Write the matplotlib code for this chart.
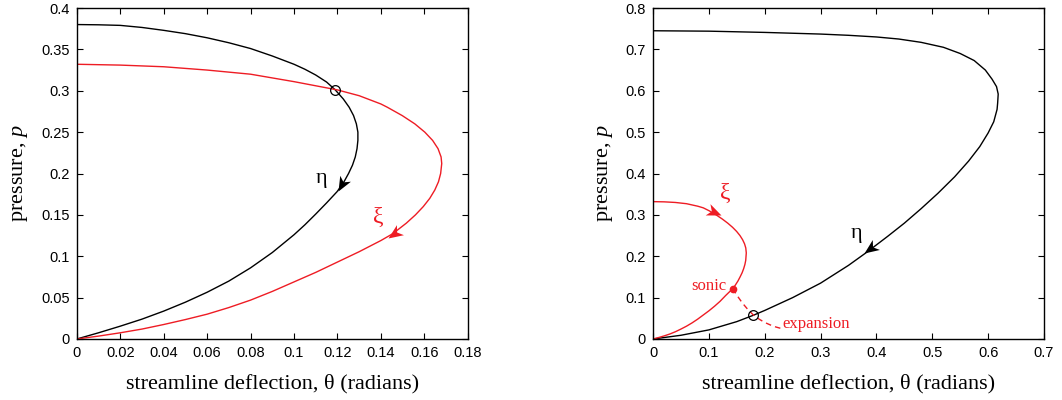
import math
import matplotlib
matplotlib.use("Agg")
import matplotlib.pyplot as plt
from matplotlib.path import Path
from matplotlib.markers import MarkerStyle
from matplotlib.transforms import Affine2D

plt.rcParams["mathtext.fontset"] = "custom"
plt.rcParams["mathtext.rm"] = "Liberation Serif"
plt.rcParams["mathtext.it"] = "Liberation Serif:italic"

# ---------------- data: left panel ----------------
L_eta_theta = [0, 0.01, 0.02, 0.03, 0.04, 0.05, 0.06, 0.07, 0.08, 0.09, 0.10, 0.105, 0.11, 0.115,
               0.119, 0.1227, 0.1254, 0.1274, 0.1287, 0.1294, 0.1294, 0.1290, 0.1282, 0.1269,
               0.1251, 0.1230, 0.1220, 0.1198, 0.115, 0.11, 0.105, 0.10, 0.09, 0.08, 0.07, 0.06,
               0.05, 0.04, 0.03, 0.02, 0.01, 0]
L_eta_p = [0.380, 0.3797, 0.379, 0.3765, 0.373, 0.369, 0.364, 0.358, 0.351, 0.342, 0.332, 0.326,
           0.319, 0.3105, 0.301, 0.29, 0.28, 0.27, 0.26, 0.25, 0.24, 0.23, 0.22, 0.21,
           0.20, 0.19, 0.186, 0.178, 0.1645, 0.151, 0.138, 0.126, 0.1045, 0.086, 0.070, 0.0565,
           0.0445, 0.0337, 0.024, 0.0155, 0.0075, 0]

L_xi_theta = [0, 0.02, 0.04, 0.06, 0.08, 0.10, 0.12, 0.13, 0.14, 0.1430, 0.1498, 0.1556, 0.1602,
              0.1638, 0.1663, 0.1677, 0.168, 0.1675, 0.1665, 0.1648, 0.1625, 0.1595, 0.1559,
              0.1517, 0.1468, 0.1453, 0.14, 0.13, 0.12, 0.11, 0.10, 0.09, 0.08, 0.07, 0.06,
              0.05, 0.04, 0.03, 0.02, 0.01, 0]
L_xi_p = [0.332, 0.331, 0.329, 0.325, 0.320, 0.311, 0.301, 0.294, 0.284, 0.28, 0.27, 0.26, 0.25,
          0.24, 0.23, 0.22, 0.212, 0.20, 0.19, 0.18, 0.17, 0.16, 0.15,
          0.14, 0.13, 0.127, 0.119, 0.1055, 0.093, 0.0805, 0.069, 0.0575, 0.047, 0.038, 0.030,
          0.0235, 0.0175, 0.012, 0.0075, 0.0035, 0]

L_cross = (0.119, 0.301)
L_eta_arrow = [(0.1255, 0.204), (0.1202, 0.179)]
L_xi_arrow = [(0.155, 0.143), (0.1433, 0.1216)]
L_eta_label = (0.1127, 0.194)
L_xi_label = (0.139, 0.147)

# ---------------- data: right panel ----------------
R_eta_theta = [0, 0.1, 0.2, 0.3, 0.35, 0.40, 0.44, 0.48, 0.52, 0.55, 0.575, 0.595, 0.607, 0.615,
               0.618, 0.617, 0.616, 0.61, 0.60, 0.585, 0.565, 0.54, 0.51, 0.48, 0.45, 0.42,
               0.383, 0.35, 0.30, 0.25, 0.20, 0.179, 0.15, 0.10, 0.05, 0]
R_eta_p = [0.745, 0.744, 0.741, 0.737, 0.734, 0.730, 0.725, 0.717, 0.705, 0.690, 0.673, 0.650,
           0.628, 0.610, 0.592, 0.570, 0.555, 0.525, 0.498, 0.465, 0.430, 0.392, 0.352, 0.315,
           0.280, 0.248, 0.210, 0.178, 0.135, 0.100, 0.069, 0.057, 0.042, 0.022, 0.009, 0]

R_xi_theta = [0, 0.02, 0.04, 0.06, 0.08, 0.09, 0.1004, 0.113, 0.124, 0.1338, 0.1424, 0.1497,
              0.1557, 0.1604, 0.1639, 0.1661, 0.167, 0.166, 0.1645, 0.1623, 0.1595, 0.1559,
              0.152, 0.1473, 0.143, 0.13, 0.12, 0.11, 0.10, 0.09, 0.08, 0.07, 0.06, 0.05, 0.04,
              0.03, 0.02, 0.01, 0]
R_xi_p = [0.332, 0.3315, 0.330, 0.327, 0.321, 0.317, 0.31, 0.30, 0.29, 0.28, 0.27, 0.26,
          0.25, 0.24, 0.23, 0.22, 0.208, 0.19, 0.18, 0.17, 0.16, 0.15,
          0.14, 0.13, 0.122, 0.105, 0.091, 0.079, 0.068, 0.058, 0.048, 0.039, 0.031, 0.024, 0.0175,
          0.012, 0.0075, 0.0035, 0]

R_exp_theta = [0.143, 0.15, 0.16, 0.17, 0.179, 0.19, 0.20, 0.21, 0.22, 0.228]
R_exp_p = [0.122, 0.106, 0.087, 0.071, 0.059, 0.048, 0.040, 0.034, 0.029, 0.026]

R_sonic = (0.143, 0.122)
R_cross = (0.179, 0.057)
R_xi_arrow = [(0.10, 0.312), (0.121, 0.300)]
R_eta_arrow = [(0.41, 0.238), (0.378, 0.207)]
R_eta_label = (0.365, 0.255)
R_xi_label = (0.130, 0.352)
R_sonic_label = (0.131, 0.127)
R_exp_label = (0.232, 0.036)

# ---------------- style ----------------
RED = "#ee1c24"
SANS = ["Liberation Sans", "DejaVu Sans"]
SERIF = ["Liberation Serif", "DejaVu Serif"]

fig = plt.figure(figsize=(10.62, 4.0), dpi=100)
axL = fig.add_axes([76.8 / 1062, 61 / 400, 391 / 1062, 331 / 400])
axR = fig.add_axes([653 / 1062, 61 / 400, 391 / 1062, 331 / 400])


def style(ax, xlim, ylim, xticks, yticks, xlabels, ylabels):
    ax.set_xlim(*xlim)
    ax.set_ylim(*ylim)
    ax.set_xticks(xticks)
    ax.set_yticks(yticks)
    ax.set_xticklabels(xlabels, fontfamily=SANS, fontsize=10.5)
    ax.set_yticklabels(ylabels, fontfamily=SANS, fontsize=10.5)
    ax.tick_params(direction="in", top=True, right=True, length=4, width=0.8, pad=5)
    for s in ax.spines.values():
        s.set_linewidth(1.0)
    ax.set_xlabel("streamline deflection, θ (radians)", fontfamily=SERIF, fontsize=16, labelpad=10)
    ax.set_ylabel("pressure, $\\mathit{p}$", fontfamily=SERIF, fontsize=16, labelpad=8)


STEALTH = Path([(0, 0), (-1, 0.42), (-0.72, 0), (-1, -0.42), (0, 0)],
               [Path.MOVETO, Path.LINETO, Path.LINETO, Path.LINETO, Path.CLOSEPOLY])


def arrow(ax, pts, color):
    a = ax.transData.transform(pts[0])
    b = ax.transData.transform(pts[1])
    ang = math.degrees(math.atan2(b[1] - a[1], b[0] - a[0]))
    m = MarkerStyle(STEALTH, transform=Affine2D().rotate_deg(ang))
    ax.plot(pts[1][0], pts[1][1], marker=m, ms=21, color=color, mec=color, mew=0, ls="none")


# left panel
style(axL, (0, 0.18), (0, 0.4),
      [0, 0.02, 0.04, 0.06, 0.08, 0.1, 0.12, 0.14, 0.16, 0.18],
      [0, 0.05, 0.1, 0.15, 0.2, 0.25, 0.3, 0.35, 0.4],
      ["0", "0.02", "0.04", "0.06", "0.08", "0.1", "0.12", "0.14", "0.16", "0.18"],
      ["0", "0.05", "0.1", "0.15", "0.2", "0.25", "0.3", "0.35", "0.4"])
axL.plot(L_eta_theta, L_eta_p, color="black", lw=1.0)
axL.plot(L_xi_theta, L_xi_p, color=RED, lw=1.0)
axL.plot(*L_cross, "o", mfc="none", mec="black", ms=7, mew=0.9)
arrow(axL, L_eta_arrow, "black")
arrow(axL, L_xi_arrow, RED)
axL.text(*L_eta_label, "η", fontfamily=SERIF, fontsize=16, ha="center", va="center")
axL.text(*L_xi_label, "ξ", fontfamily=SERIF, fontsize=17, ha="center", va="center", color=RED)

# right panel
style(axR, (0, 0.7), (0, 0.8),
      [0, 0.1, 0.2, 0.3, 0.4, 0.5, 0.6, 0.7],
      [0, 0.1, 0.2, 0.3, 0.4, 0.5, 0.6, 0.7, 0.8],
      ["0", "0.1", "0.2", "0.3", "0.4", "0.5", "0.6", "0.7"],
      ["0", "0.1", "0.2", "0.3", "0.4", "0.5", "0.6", "0.7", "0.8"])
axR.plot(R_eta_theta, R_eta_p, color="black", lw=1.0)
axR.plot(R_xi_theta, R_xi_p, color=RED, lw=1.0)
axR.plot(R_exp_theta, R_exp_p, color=RED, lw=1.0, ls=(0, (4, 3)))
axR.plot(*R_sonic, "o", color=RED, ms=4.5)
axR.plot(*R_cross, "o", mfc="none", mec="black", ms=7, mew=0.9)
arrow(axR, R_xi_arrow, RED)
arrow(axR, R_eta_arrow, "black")
axR.text(*R_eta_label, "η", fontfamily=SERIF, fontsize=16, ha="center", va="center")
axR.text(*R_xi_label, "ξ", fontfamily=SERIF, fontsize=17, ha="center", va="center", color=RED)
axR.text(*R_sonic_label, "sonic", fontfamily=SERIF, fontsize=12, ha="right", va="center", color=RED)
axR.text(*R_exp_label, "expansion", fontfamily=SERIF, fontsize=12, ha="left", va="center", color=RED)

fig.savefig("out.png", dpi=100)
